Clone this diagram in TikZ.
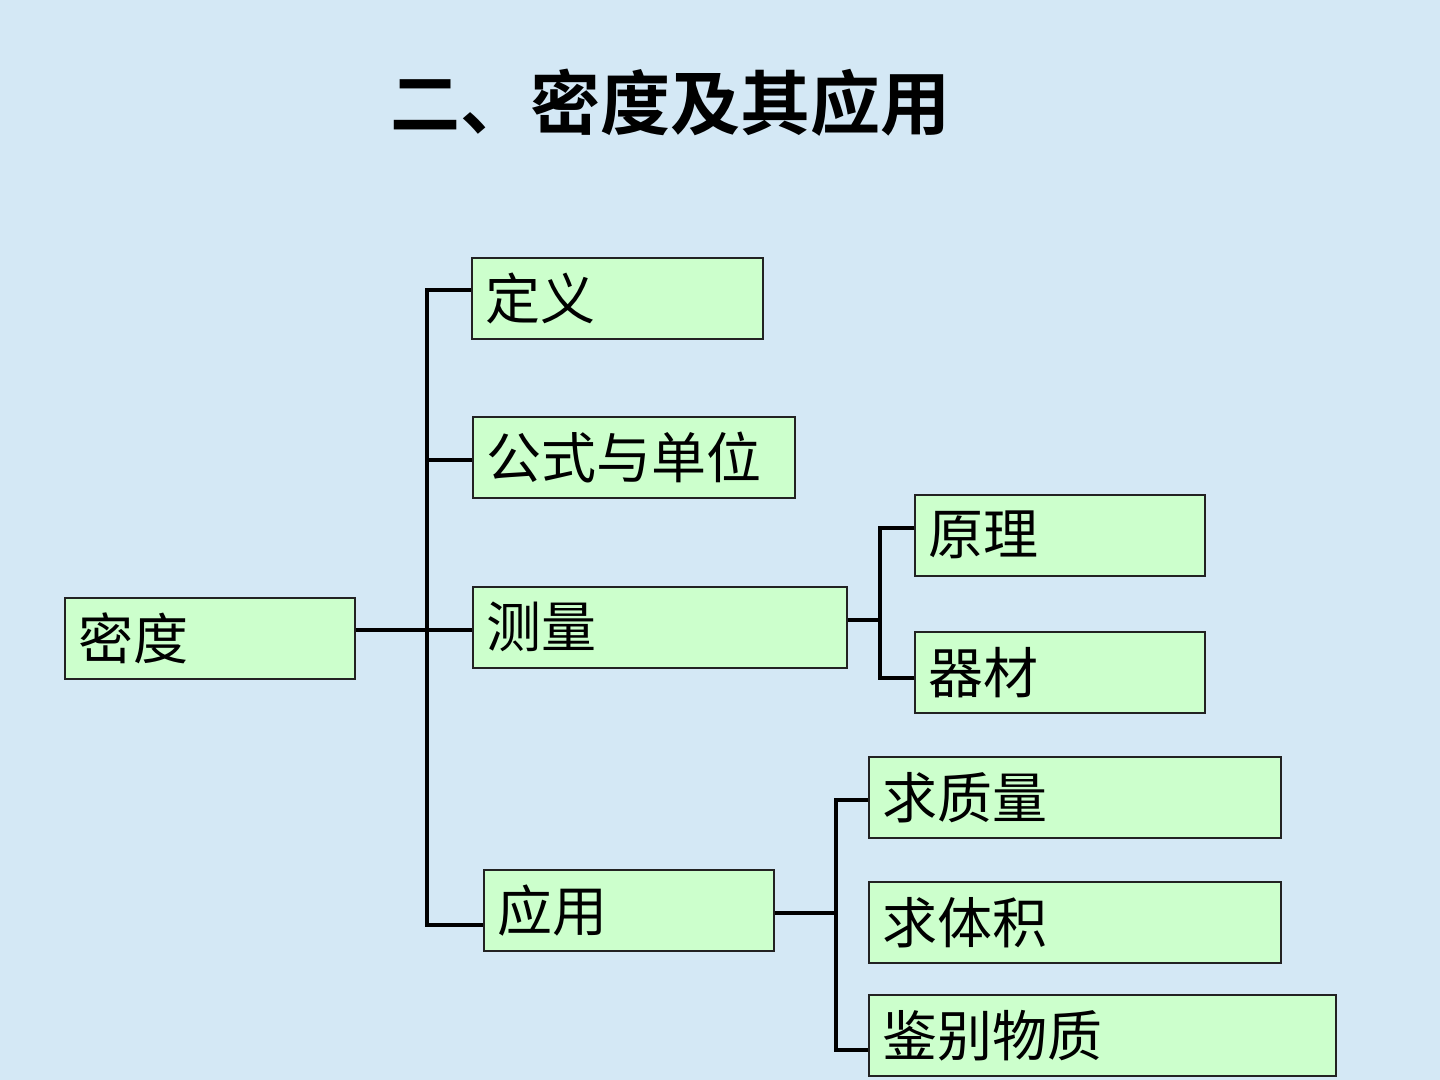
\documentclass[tikz,border=0pt]{standalone}
\usepackage{fontspec}
\usepackage{xcolor}
\usepackage{tikz}
\newfontfamily\cjk{Noto Sans CJK SC}
\newfontfamily\cjktitle{Noto Sans CJK SC Bold}
\definecolor{bg}{HTML}{D4E8F5}
\definecolor{boxfill}{HTML}{CCFFCC}
\definecolor{boxline}{HTML}{222222}
\tikzset{
  box/.style={draw=boxline, fill=boxfill, line width=0.8pt, anchor=north west,
    minimum height=40.5pt, inner xsep=7pt, inner ysep=0pt, align=left,
    text width=#1, font=\cjk\fontsize{27.5}{30}\selectfont},
  link/.style={draw=black, line width=1.8pt},
  heading/.style={font=\cjktitle\fontsize{35}{40}\selectfont},
}

\begin{document}
\begin{tikzpicture}[x=0.5pt,y=-0.5pt]
  \fill[bg] (0,0) rectangle (1440,1080);
  \useasboundingbox (0,0) rectangle (1440,1080);

  \node[heading] (title) at (670,103) {二、密度及其应用};

  \node[box=131pt] (midu) at (64,597) {密度};
  \node[box=131.5pt] (dingyi) at (471,257) {定义};
  \node[box=147pt] (gongshi) at (472,416) {公式与单位};
  \node[box=173pt] (celiang) at (472,586) {测量};
  \node[box=131pt] (yingyong) at (483,869) {应用};
  \node[box=131pt] (yuanli) at (914,494) {原理};
  \node[box=131pt] (qicai) at (914,631) {器材};
  \node[box=192pt] (zhiliang) at (868,756) {求质量};
  \node[box=192pt] (tiji) at (868,881) {求体积};
  \node[box=219.5pt] (jianbie) at (868,994) {鉴别物质};

  % main tree
  \coordinate (hub) at (427,630);
  \coordinate (top) at (427,290);
  \coordinate (mid) at (427,460);
  \coordinate (bot) at (427,925);
  \draw[link] (midu.east |- hub) -- (hub -| celiang.west);
  \draw[link] (top -| dingyi.west) -- (top) -- (bot) -- (bot -| yingyong.west);
  \draw[link] (mid) -- (mid -| gongshi.west);

  % measuring
  \coordinate (m) at (880,620);
  \coordinate (m1) at (880,528);
  \coordinate (m2) at (880,678);
  \draw[link] (celiang.east |- m) -- (m);
  \draw[link] (m1 -| yuanli.west) -- (m1) -- (m2) -- (m2 -| qicai.west);

  % applications
  \coordinate (a) at (836,913);
  \coordinate (a1) at (836,800);
  \coordinate (a2) at (836,1050);
  \draw[link] (yingyong.east |- a) -- (a);
  \draw[link] (a1 -| zhiliang.west) -- (a1) -- (a2) -- (a2 -| jianbie.west);
\end{tikzpicture}
\end{document}
